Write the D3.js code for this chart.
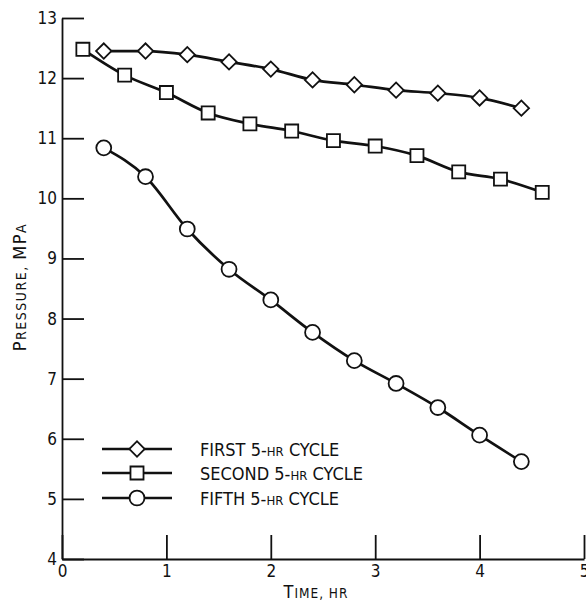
<!DOCTYPE html>
<html>
<head>
<meta charset="utf-8">
<script src="https://cdn.jsdelivr.net/npm/d3@7"></script>
<style>
  html, body { margin: 0; padding: 0; background: #fff; }
  svg { display: block; }
  text { font-family: "DejaVu Sans Condensed", "Liberation Sans Narrow", sans-serif; fill: #111; }
</style>
</head>
<body>
<svg id="chart" width="586" height="609"></svg>
<script>
// Time (hr) and pressure (MPa) for each 5-hr cycle
const firstTime = [0.4, 0.8, 1.2, 1.6, 2.0, 2.4, 2.8, 3.2, 3.6, 4.0, 4.4];
const firstPressure = [12.45, 12.45, 12.39, 12.27, 12.15, 11.97, 11.89, 11.80, 11.75, 11.67, 11.50];

const secondTime = [0.2, 0.6, 1.0, 1.4, 1.8, 2.2, 2.6, 3.0, 3.4, 3.8, 4.2, 4.6];
const secondPressure = [12.48, 12.05, 11.76, 11.42, 11.24, 11.12, 10.96, 10.87, 10.71, 10.44, 10.32, 10.10];

const fifthTime = [0.4, 0.8, 1.2, 1.6, 2.0, 2.4, 2.8, 3.2, 3.6, 4.0, 4.4];
const fifthPressure = [10.84, 10.36, 9.49, 8.82, 8.31, 7.77, 7.30, 6.92, 6.52, 6.06, 5.62];

const xTicks = [0, 1, 2, 3, 4, 5];
const yTicks = [4, 5, 6, 7, 8, 9, 10, 11, 12, 13];

const seriesNames = ["FIRST 5-", "SECOND 5-", "FIFTH 5-"];
const markerKinds = ["diamond", "square", "circle"];

const series = [
  { name: seriesNames[0], marker: markerKinds[0], pts: firstTime.map((t, i) => [t, firstPressure[i]]) },
  { name: seriesNames[1], marker: markerKinds[1], pts: secondTime.map((t, i) => [t, secondPressure[i]]) },
  { name: seriesNames[2], marker: markerKinds[2], pts: fifthTime.map((t, i) => [t, fifthPressure[i]]) }
];

const svg = d3.select("#chart");
const x = d3.scaleLinear().domain([0, 5]).range([62, 584]);
const y = d3.scaleLinear().domain([4, 13]).range([559, 18]);

// Axes with inward-pointing ticks
const yAxis = d3.axisLeft(y).tickValues(yTicks).tickSizeInner(-22).tickSizeOuter(0).tickPadding(5)
  .tickFormat(d3.format("d"));
const xAxis = d3.axisBottom(x).tickValues(xTicks).tickSizeInner(-24).tickSizeOuter(0).tickPadding(6)
  .tickFormat(d3.format("d"));

const gy = svg.append("g").attr("transform", `translate(${x(0)},0)`).call(yAxis);
const gx = svg.append("g").attr("transform", `translate(0,${y(4)})`).call(xAxis);
[gx, gy].forEach(g => {
  g.selectAll("path, line").attr("stroke", "#111").attr("stroke-width", 1.8);
  g.selectAll("text").attr("font-size", 17).attr("font-family", null).attr("fill", "#111");
});

// Marker shapes
const sym = {
  diamond: d3.symbol().type(d3.symbolSquare).size(118),
  square: d3.symbol().type(d3.symbolSquare).size(170),
  circle: d3.symbol().type(d3.symbolCircle).size(175)
};
function drawMarker(g, kind, cx, cy) {
  g.append("path")
    .attr("d", sym[kind]())
    .attr("transform", `translate(${cx},${cy})` + (kind === "diamond" ? " rotate(45)" : ""))
    .attr("fill", "#fff").attr("stroke", "#111").attr("stroke-width", 1.8);
}

const line = d3.line().x(d => x(d[0])).y(d => y(d[1])).curve(d3.curveMonotoneX);

series.forEach(s => {
  const g = svg.append("g");
  g.append("path").attr("d", line(s.pts)).attr("fill", "none")
    .attr("stroke", "#111").attr("stroke-width", 2.7);
  s.pts.forEach(p => drawMarker(g, s.marker, x(p[0]), y(p[1])));
});

// Legend
const legendY = [449, 473, 498];
series.forEach((s, i) => {
  const g = svg.append("g");
  g.append("line").attr("x1", 102).attr("x2", 172).attr("y1", legendY[i]).attr("y2", legendY[i])
    .attr("stroke", "#111").attr("stroke-width", 2.7);
  drawMarker(g, s.marker, 137, legendY[i]);
  const t = g.append("text").attr("x", 200).attr("y", legendY[i] + 6.5).attr("font-size", 18);
  t.append("tspan").text(s.name);
  t.append("tspan").attr("font-size", 13).text("HR");
  t.append("tspan").text(" CYCLE");
});

// Axis titles
const xt = svg.append("text").attr("x", 316).attr("y", 598).attr("text-anchor", "middle")
  .attr("font-size", 18).attr("letter-spacing", 1);
xt.append("tspan").text("T");
xt.append("tspan").attr("font-size", 13.5).text("IME, HR");

const yt = svg.append("text").attr("transform", "translate(26,287) rotate(-90)")
  .attr("text-anchor", "middle").attr("font-size", 18).attr("letter-spacing", 1.5);
yt.append("tspan").text("P");
yt.append("tspan").attr("font-size", 14).text("RESSURE, ");
yt.append("tspan").text("MP");
yt.append("tspan").attr("font-size", 14).text("A");
</script>
</body>
</html>
